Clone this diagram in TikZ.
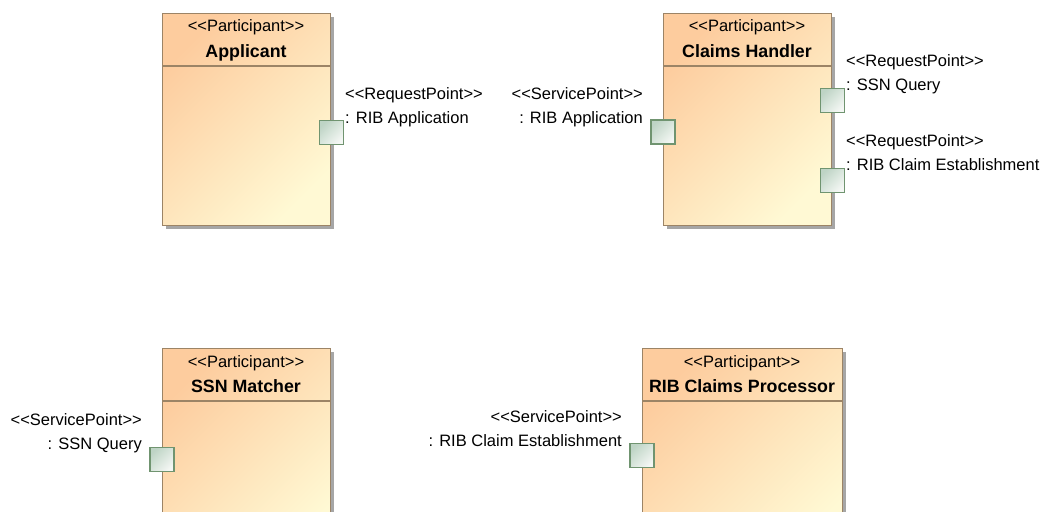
\documentclass[tikz,border=0pt]{standalone}
\usepackage{fontspec}
\setmainfont{Liberation Sans}
\usetikzlibrary{shadows}

\definecolor{partTop}{RGB}{253,204,158}
\definecolor{partBot}{RGB}{255,249,212}
\definecolor{partLine}{RGB}{156,132,102}
\definecolor{portTop}{RGB}{190,212,197}
\definecolor{portBot}{RGB}{244,247,244}
\definecolor{portLine}{RGB}{112,148,112}

% stereotype brackets, kept apart so they do not turn into guillemets
\newcommand\stereotype[1]{<{}<#1>{}>}

\tikzset{
  participant/.style={draw=partLine, line width=1.2pt,
    top color=partTop, bottom color=partBot, shading angle=45,
    anchor=north west, inner sep=0pt,
    general shadow={fill=black!35, shadow xshift=3.5pt, shadow yshift=-3.5pt}},
  port/.style={draw=portLine, line width=1.4pt,
    top color=portTop, bottom color=portBot, shading angle=45,
    minimum size=24pt, inner sep=0pt},
  stereo/.style={font=\fontsize{16.5}{20}\selectfont, inner sep=0pt},
  title/.style={font=\fontsize{17.8}{20}\selectfont\bfseries, inner sep=0pt},
  sep/.style={draw=partLine, line width=1.2pt},
}

\begin{document}
\begin{tikzpicture}[x=1pt,y=-1pt]
  \useasboundingbox (0,0) rectangle (1043,511);
  \fill[white] (0,0) rectangle (1043,511);
  \clip (0,0) rectangle (1043,511);

  % ---- participants ----
  \node[participant, minimum width=168pt, minimum height=212pt] (app) at (162,13) {};
  \draw[sep] (app.west |- 0,66) -- (app.east |- 0,66);
  \node[stereo, anchor=base] (appSt) at (246,32) {\stereotype{Participant}};
  \node[title, anchor=base] (appTi) at (246,57) {Applicant};

  \node[participant, minimum width=168pt, minimum height=212pt] (ch) at (663,13) {};
  \draw[sep] (ch.west |- 0,66) -- (ch.east |- 0,66);
  \node[stereo, anchor=base] (chSt) at (747,32) {\stereotype{Participant}};
  \node[title, anchor=base] (chTi) at (747,57) {Claims Handler};

  \node[participant, minimum width=168pt, minimum height=212pt] (ssn) at (162,348) {};
  \draw[sep] (ssn.west |- 0,401) -- (ssn.east |- 0,401);
  \node[stereo, anchor=base] (ssnSt) at (246,367) {\stereotype{Participant}};
  \node[title, anchor=base] (ssnTi) at (246,392) {SSN Matcher};

  \node[participant, minimum width=200pt, minimum height=212pt] (rib) at (642,348) {};
  \draw[sep] (rib.west |- 0,401) -- (rib.east |- 0,401);
  \node[stereo, anchor=base] (ribSt) at (742,367) {\stereotype{Participant}};
  \node[title, anchor=base] (ribTi) at (742,392) {RIB Claims Processor};

  % ---- ports ----
  \node[port] (appPort) at (app.east |- 0,132.5) {};
  \node[port] (chIn)    at (ch.west |- 0,132) {};
  \node[port] (chQ)     at (ch.east |- 0,100.5) {};
  \node[port] (chE)     at (ch.east |- 0,180.5) {};
  \node[port] (ssnPort) at (ssn.west |- 0,459.5) {};
  \node[port] (ribPort) at (rib.west |- 0,455.5) {};

  % ---- port labels ----
  \node[stereo, anchor=base west] (appPortSt) at (345,99) {\stereotype{RequestPoint}};
  \node[stereo, anchor=base west] (appPortNm) at (345,123) {: RIB Application};

  \node[stereo, anchor=base east] (chInSt) at (643,99) {\stereotype{ServicePoint}};
  \node[stereo, anchor=base east] (chInNm) at (643,123) {: RIB Application};

  \node[stereo, anchor=base west] (chQSt) at (846,66.5) {\stereotype{RequestPoint}};
  \node[stereo, anchor=base west] (chQNm) at (846,90.5) {: SSN Query};

  \node[stereo, anchor=base west] (chESt) at (846,146.5) {\stereotype{RequestPoint}};
  \node[stereo, anchor=base west] (chENm) at (846,170.5) {: RIB Claim Establishment};

  \node[stereo, anchor=base east] (ssnPortSt) at (142,425) {\stereotype{ServicePoint}};
  \node[stereo, anchor=base east] (ssnPortNm) at (142,449) {: SSN Query};

  \node[stereo, anchor=base east] (ribPortSt) at (622,422) {\stereotype{ServicePoint}};
  \node[stereo, anchor=base east] (ribPortNm) at (622,446) {: RIB Claim Establishment};
\end{tikzpicture}
\end{document}
